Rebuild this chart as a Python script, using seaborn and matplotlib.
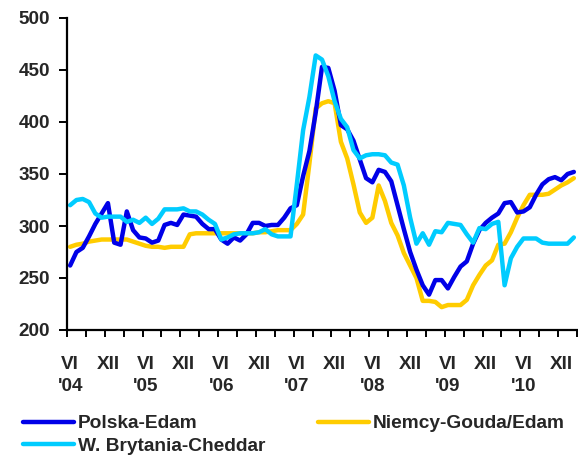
import numpy as np
import pandas as pd
import matplotlib
matplotlib.use("Agg")
from matplotlib import pyplot as plt
import seaborn as sns

# monthly prices, VI 2004 - II 2011
polska = [262, 275, 279, 290, 302, 312, 322, 284, 282, 314, 296, 289, 288, 284, 286,
          301, 303, 301, 311, 310, 309, 302, 297, 297, 287, 283, 289, 286, 292, 303,
          303, 300, 301, 301, 308, 317, 320, 348, 372, 409, 453, 452, 430, 397, 393,
          382, 364, 346, 342, 354, 352, 343, 320, 297, 275, 258, 243, 234, 248, 248,
          240, 251, 261, 266, 283, 296, 303, 308, 312, 322, 323, 313, 314, 318, 330,
          340, 345, 347, 344, 350, 352]
niemcy = [280, 282, 283, 285, 286, 287, 287, 287, 287, 287, 285, 283, 281, 280, 280,
          279, 280, 280, 280, 292, 293, 293, 293, 293, 293, 293, 293, 293, 293, 293,
          294, 294, 295, 296, 296, 296, 302, 311, 360, 413, 418, 420, 418, 381, 365,
          340, 313, 303, 308, 339, 324, 303, 291, 274, 262, 250, 228, 228, 227, 222,
          224, 224, 224, 229, 243, 253, 262, 267, 282, 283, 294, 308, 320, 330, 330,
          330, 331, 335, 339, 342, 346]
brytania = [320, 325, 326, 323, 312, 308, 309, 309, 309, 304, 306, 303, 308, 302, 307,
            316, 316, 316, 317, 314, 314, 311, 306, 302, 287, 289, 292, 293, 293, 293,
            294, 297, 292, 290, 290, 290, 340, 392, 424, 464, 460, 444, 420, 403, 395,
            373, 365, 368, 369, 369, 368, 361, 359, 339, 308, 283, 293, 282, 295, 294,
            303, 302, 301, 292, 284, 298, 297, 302, 304, 243, 269, 280, 288, 288, 288,
            284, 283, 283, 283, 283, 289]

series_names = ["Niemcy-Gouda/Edam", "Polska-Edam", "W. Brytania-Cheddar"]
colors = {"Polska-Edam": "#0000e8", "Niemcy-Gouda/Edam": "#ffcc00",
          "W. Brytania-Cheddar": "#00ccff"}

tick_labels = ["VI\n'04", "XII", "VI\n'05", "XII", "VI\n'06", "XII", "VI\n'07", "XII",
               "VI\n'08", "XII", "VI\n'09", "XII", "VI\n'10", "XII"]

month = np.arange(len(polska))
df = pd.concat([
    pd.DataFrame({"month": month, "cena": niemcy, "seria": "Niemcy-Gouda/Edam"}),
    pd.DataFrame({"month": month, "cena": polska, "seria": "Polska-Edam"}),
    pd.DataFrame({"month": month, "cena": brytania, "seria": "W. Brytania-Cheddar"}),
])

sns.set_style("white")
plt.rcParams["font.family"] = ["Liberation Sans", "DejaVu Sans"]
plt.rcParams["font.weight"] = "bold"

fig = plt.figure(figsize=(5.78, 4.58), dpi=100)
ax = fig.add_axes([67 / 578, 1 - 330 / 458, 510 / 578, 312 / 458])

sns.lineplot(data=df, x="month", y="cena", hue="seria", hue_order=series_names,
             palette=colors, linewidth=3.2, legend=False, ax=ax)

ax.set_xlim(-0.5, len(polska) - 0.5)
ax.set_ylim(200, 500)
ax.set_yticks(np.arange(200, 501, 50))
ax.set_xlabel("")
ax.set_ylabel("")

for side in ["top", "right"]:
    ax.spines[side].set_visible(False)
for side in ["left", "bottom"]:
    ax.spines[side].set_color("black")
    ax.spines[side].set_linewidth(1.6)

# tick marks between months every quarter, labels every half year
ax.set_xticks(np.arange(-0.5, len(polska), 3))
ax.set_xticklabels([])
ax.set_xticks(np.arange(0, 79, 6), minor=True)
ax.set_xticklabels(tick_labels, minor=True)
ax.tick_params(axis="x", which="major", direction="out", length=5, width=1.4,
               color="black", bottom=True)
ax.tick_params(axis="x", which="minor", length=0, pad=19, labelsize=13.6)
for lbl in ax.get_xticklabels(minor=True):
    lbl.set_fontweight("bold")
    lbl.set_linespacing(1.35)
ax.tick_params(axis="y", direction="out", length=6, width=1.4, color="black",
               left=True, pad=6, labelsize=13.6)
for lbl in ax.get_yticklabels():
    lbl.set_fontweight("bold")

lines = {name: ln for name, ln in zip(series_names, ax.get_lines())}
order = ["Polska-Edam", "W. Brytania-Cheddar", "Niemcy-Gouda/Edam"]
fig.legend([lines[n] for n in order], order, ncol=2, loc="upper left",
           bbox_to_anchor=(23 / 578, 1 - 415 / 458), frameon=False,
           prop={"size": 13.8, "weight": "bold"}, handlelength=2.65,
           handletextpad=0.22, columnspacing=2.75, labelspacing=0.28,
           borderaxespad=0, borderpad=0)

fig.savefig("out.png", dpi=100)
